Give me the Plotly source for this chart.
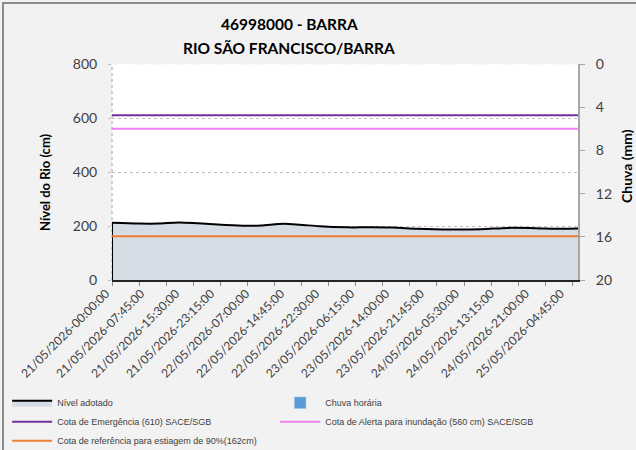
import plotly.graph_objects as go

# ---- data ----
times = [
    "2026-05-21 00:00", "2026-05-21 06:00", "2026-05-21 10:15", "2026-05-21 14:45",
    "2026-05-21 19:00", "2026-05-22 00:15", "2026-05-22 05:30", "2026-05-22 09:00",
    "2026-05-22 14:00", "2026-05-22 17:30", "2026-05-22 22:00", "2026-05-23 04:00",
    "2026-05-23 09:00", "2026-05-23 14:15", "2026-05-23 19:30", "2026-05-24 02:30",
    "2026-05-24 09:45", "2026-05-24 15:45", "2026-05-24 21:45", "2026-05-25 03:30",
    "2026-05-25 07:15",
]
nivel = [212, 209, 209, 213, 210, 205, 201, 202, 208, 205, 199, 195,
         195, 194, 190, 187, 188, 193, 192, 190, 191]
chuva = [0, 0, 0, 0, 0, 0, 0, 0, 0, 0, 0, 0, 0, 0, 0, 0, 0, 0, 0, 0, 0]

cota_emergencia = 610
cota_alerta = 560
cota_estiagem = 162

tick_vals = [
    "2026-05-21 00:00", "2026-05-21 07:45", "2026-05-21 15:30", "2026-05-21 23:15",
    "2026-05-22 07:00", "2026-05-22 14:45", "2026-05-22 22:30", "2026-05-23 06:15",
    "2026-05-23 14:00", "2026-05-23 21:45", "2026-05-24 05:30", "2026-05-24 13:15",
    "2026-05-24 21:00", "2026-05-25 04:45",
]
tick_text = [
    "21/05/2026-00:00:00", "21/05/2026-07:45:00", "21/05/2026-15:30:00", "21/05/2026-23:15:00",
    "22/05/2026-07:00:00", "22/05/2026-14:45:00", "22/05/2026-22:30:00", "23/05/2026-06:15:00",
    "23/05/2026-14:00:00", "23/05/2026-21:45:00", "24/05/2026-05:30:00", "24/05/2026-13:15:00",
    "24/05/2026-21:00:00", "25/05/2026-04:45:00",
]

title_l1 = "46998000 - BARRA"
title_l2 = "RIO SÃO FRANCISCO/BARRA"
y_title = "Nível do Rio (cm)"
y2_title = "Chuva (mm)"

# ---- figure ----
fig = go.Figure()

fig.add_trace(go.Scatter(
    x=times, y=nivel, name="Nível adotado", mode="lines",
    line=dict(color="black", width=2, shape="spline", smoothing=0.8),
    fill="tozeroy", fillcolor="#d6dce5",
))
# left edge of the area (vertical border)
fig.add_trace(go.Scatter(
    x=[times[0], times[0]], y=[0, nivel[0]], mode="lines",
    line=dict(color="black", width=2), showlegend=False, hoverinfo="skip",
))
fig.add_trace(go.Bar(
    x=times, y=chuva, name="Chuva horária", marker_color="#5b9bd5", yaxis="y2",
))
fig.add_trace(go.Scatter(
    x=[times[0], times[-1]], y=[cota_emergencia, cota_emergencia], mode="lines",
    name="Cota de Emergência (610) SACE/SGB", line=dict(color="#7030a0", width=2),
))
fig.add_trace(go.Scatter(
    x=[times[0], times[-1]], y=[cota_alerta, cota_alerta], mode="lines",
    name="Cota de Alerta para inundação (560 cm) SACE/SGB", line=dict(color="#ee82ee", width=2),
))
fig.add_trace(go.Scatter(
    x=[times[0], times[-1]], y=[cota_estiagem, cota_estiagem], mode="lines",
    name="Cota de referência para estiagem de 90%(162cm)", line=dict(color="#ed7d31", width=2),
))

font_main = "Lato, Liberation Sans, sans-serif"
tickcol = "#404040"

fig.update_layout(
    width=636, height=450,
    margin=dict(l=112, r=58, t=64, b=170, autoexpand=False),
    paper_bgcolor="#f2f2f2", plot_bgcolor="white",
    font=dict(family=font_main, color=tickcol),
    showlegend=True,
    legend=dict(
        orientation="h", x=-0.225, y=-0.5015, xanchor="left", yanchor="top",
        entrywidth=213, entrywidthmode="pixels", tracegroupgap=0,
        font=dict(family="Liberation Sans, Arial, sans-serif", size=9, color="#404040"),
        bgcolor="rgba(0,0,0,0)", itemwidth=40,
    ),
    annotations=[
        dict(text="<b>" + title_l1 + "</b>", xref="paper", yref="paper", x=0.38, y=1.0,
             yshift=40, xanchor="center", yanchor="middle", showarrow=False,
             font=dict(size=15.5, color="black", family=font_main)),
        dict(text="<b>" + title_l2 + "</b>", xref="paper", yref="paper", x=0.38, y=1.0,
             yshift=16, xanchor="center", yanchor="middle", showarrow=False,
             font=dict(size=15.5, color="black", family=font_main)),
        dict(text="<b>" + y_title + "</b>", xref="paper", yref="paper",
             x=(45 - 112) / 466, y=(280 - 182) / 216, textangle=-90,
             xanchor="center", yanchor="middle", showarrow=False,
             font=dict(size=13, color="black", family=font_main)),
        dict(text="<b>" + y2_title + "</b>", xref="paper", yref="paper",
             x=(626 - 112) / 466, y=(280 - 166) / 216, textangle=-90,
             xanchor="center", yanchor="middle", showarrow=False,
             font=dict(size=14, color="black", family=font_main)),
    ],
    xaxis=dict(
        type="date", range=[times[0], times[-1]],
        tickvals=tick_vals, ticktext=tick_text, tickangle=-45,
        tickfont=dict(size=12, color=tickcol), ticks="", showgrid=False,
        ticklabelshift=-6,
        showline=True, linecolor="#262626", linewidth=2, zeroline=False,
        minor=dict(ticks="outside", ticklen=4, tickcolor="#8c8c8c",
                   dtick=6 * 3600 * 1000, tick0=times[0], showgrid=False),
    ),
    yaxis=dict(
        range=[0, 800], dtick=200, tickfont=dict(size=14, color=tickcol),
        showgrid=True, gridcolor="#bfbfbf", griddash="dot", gridwidth=1,
        zeroline=False, showline=False, ticks="outside", ticklen=3, tickcolor="#bfbfbf",
        ticklabelstandoff=8,
    ),
    yaxis2=dict(
        overlaying="y", side="right", range=[20, 0], dtick=4,
        tickfont=dict(size=14, color=tickcol), showgrid=False, zeroline=False,
        showline=True, linecolor="#a6a6a6", linewidth=2,
        ticks="outside", ticklen=5, tickcolor="#a6a6a6", ticklabelstandoff=8,
    ),
    shapes=[
        dict(type="line", xref="paper", yref="paper", x0=0, x1=0, y0=0, y1=1,
             line=dict(color="#bfbfbf", width=1.5, dash="dot"), layer="below"),
        dict(type="rect", xref="paper", yref="paper",
             x0=(3 - 112) / 466, x1=1.3, y0=-1.0, y1=(280 - 3) / 216,
             line=dict(color="#8c8c8c", width=2), fillcolor="rgba(0,0,0,0)", layer="above"),
    ],
)

fig.write_html("out.html", config={"displayModeBar": False},
               post_script="document.body.style.margin='0';")
